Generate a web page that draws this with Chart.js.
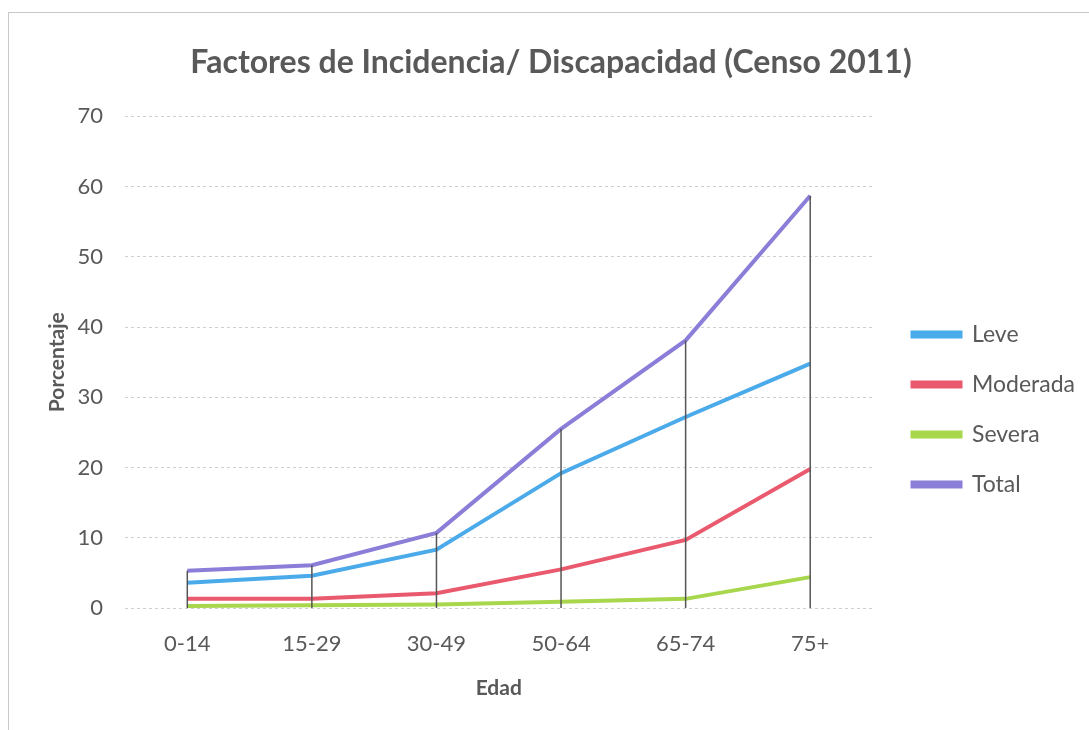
<!DOCTYPE html>
<html>
<head>
<meta charset="utf-8">
<script src="https://cdn.jsdelivr.net/npm/chart.js@4.4.1/dist/chart.umd.min.js"></script>
<style>
  html, body { margin: 0; padding: 0; background: #fff; }
  #wrap { position: relative; width: 1089px; height: 730px; overflow: hidden; }
  #frame { position: absolute; left: 8px; top: 12px; width: 1200px; height: 800px; border-left: 1px solid #c8c8c8; border-top: 1px solid #c8c8c8; box-sizing: border-box; pointer-events: none; }
  canvas { position: absolute; left: 0; top: 0; }
</style>
</head>
<body>
<div id="wrap">
  <div id="frame"></div>
  <canvas id="c" width="1089" height="730"></canvas>
</div>
<script>
const categories = ['0-14', '15-29', '30-49', '50-64', '65-74', '75+'];
const leve     = [3.6, 4.6, 8.3, 19.2, 27.2, 34.8];
const moderada = [1.3, 1.3, 2.1, 5.5, 9.7, 19.8];
const severa   = [0.3, 0.4, 0.5, 0.9, 1.3, 4.4];
const total    = [5.3, 6.1, 10.7, 25.5, 38.1, 58.7];
const yTicks   = [0, 10, 20, 30, 40, 50, 60, 70];

const FONT = 'Lato, "Open Sans", sans-serif';
const GRAY = '#595959';

const dropLines = {
  id: 'dropLines',
  afterDatasetsDraw(chart) {
    const { ctx, scales: { x, y } } = chart;
    ctx.save();
    ctx.strokeStyle = '#555';
    ctx.lineWidth = 1.5;
    categories.forEach((c, i) => {
      let maxV = -Infinity;
      chart.data.datasets.forEach(ds => { if (ds.data[i] > maxV) maxV = ds.data[i]; });
      const px = x.getPixelForValue(i);
      ctx.beginPath();
      ctx.moveTo(px, y.getPixelForValue(maxV));
      ctx.lineTo(px, y.getPixelForValue(0));
      ctx.stroke();
    });
    ctx.restore();
  }
};

const legendShift = {
  id: 'legendShift',
  afterLayout(chart) {
    if (chart.legend) { chart.legend.left += 13; chart.legend.right += 13; }
  }
};

const mk = (label, data, color) => ({
  label, data, borderColor: color, backgroundColor: color,
  borderWidth: 4, pointRadius: 0, tension: 0, fill: false
});

new Chart(document.getElementById('c'), {
  type: 'line',
  data: {
    labels: categories,
    datasets: [
      mk('Leve', leve, '#4aaaea'),
      mk('Moderada', moderada, '#ea5a6e'),
      mk('Severa', severa, '#a8d64c'),
      mk('Total', total, '#8a7ed8')
    ]
  },
  options: {
    responsive: false,
    animation: false,
    devicePixelRatio: 1,
    layout: { padding: { top: 20, left: 30, right: 17, bottom: 20 } },
    plugins: {
      title: {
        display: true,
        text: 'Factores de Incidencia/ Discapacidad (Censo 2011)',
        color: GRAY,
        font: { family: FONT, size: 32, weight: 'bold' },
        padding: { top: 23, bottom: 35 }
      },
      legend: {
        position: 'right',
        title: { display: true, text: ' ', font: { size: 10 }, padding: { top: 77, bottom: 0 } },
        labels: {
          color: GRAY,
          font: { family: FONT, size: 23 },
          boxWidth: 48,
          boxHeight: 4,
          padding: 27
        }
      },
      tooltip: { enabled: false }
    },
    scales: {
      x: {
        offset: true,
        grid: { display: false },
        border: { display: false },
        ticks: { color: GRAY, font: { family: FONT, size: 22 }, padding: 15 },
        title: { display: true, text: 'Edad', color: GRAY, font: { family: FONT, size: 21, weight: 'bold' }, padding: { top: 10, bottom: 9 } },
        afterFit(s) { s.height = 102; }
      },
      y: {
        min: 0, max: 70,
        afterBuildTicks(s) { s.ticks = yTicks.map(v => ({ value: v })); },
        grid: { color: '#cfcfcf', drawTicks: false, lineWidth: 1 },
        border: { display: false, dash: [3, 3] },
        ticks: { color: GRAY, font: { family: FONT, size: 22 }, padding: 22 },
        title: { display: true, text: 'Porcentaje', color: GRAY, font: { family: FONT, size: 21, weight: 'bold' }, padding: { top: 15, bottom: 0 } },
        afterFit(s) { s.width = 95; }
      }
    }
  },
  plugins: [dropLines, legendShift]
});
</script>
</body>
</html>
